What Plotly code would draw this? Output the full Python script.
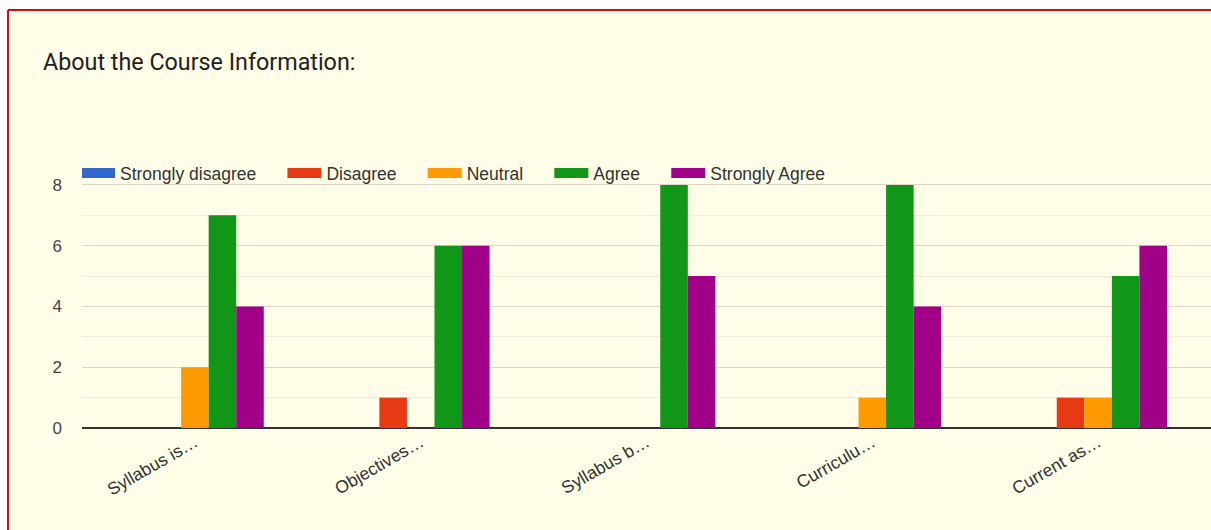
import plotly.graph_objects as go

# data
categories = ['Syllabus is…', 'Objectives…', 'Syllabus b…', 'Curriculu…', 'Current as…']
strongly_disagree = [0, 0, 0, 0, 0]
disagree = [0, 1, 0, 0, 1]
neutral = [2, 0, 0, 1, 1]
agree = [7, 6, 8, 8, 5]
strongly_agree = [4, 6, 5, 4, 6]

series = [
    ('Strongly disagree', strongly_disagree, '#3366cc'),
    ('Disagree', disagree, '#e63914'),
    ('Neutral', neutral, '#ff9900'),
    ('Agree', agree, '#129618'),
    ('Strongly Agree', strongly_agree, '#a10089'),
]

BG = '#fffde8'

W, H = 1211, 530
L, T, PH, PW = 82, 154, 274, 1129

fig = go.Figure()
for name, vals, col in series:
    fig.add_trace(go.Bar(
        x=categories, y=vals, name=name, showlegend=False,
        marker=dict(color=col, line=dict(width=0)),
    ))
# wide legend swatches like the original
for name, vals, col in series:
    fig.add_trace(go.Scatter(
        x=[None], y=[None], mode='lines', name=name + '\u00a0' * 5 + '\u2006',
        line=dict(color=col, width=17),
    ))

fig.update_layout(
    width=W, height=H,
    margin=dict(l=L, r=W - L - PW, t=T, b=H - T - PH),
    paper_bgcolor='white',
    plot_bgcolor=BG,
    barmode='group',
    bargap=0.39,
    bargroupgap=0.0,
    font=dict(family='Liberation Sans, Arial, sans-serif', color='#333333', size=15),
    title=dict(
        text='About the Course Information:',
        x=43 / W, xref='container', xanchor='left',
        y=1 - 62 / H, yref='container', yanchor='middle',
        font=dict(family='Roboto, sans-serif', size=23.3, color='#212121'),
    ),
    legend=dict(
        orientation='h', x=0, xanchor='left', y=0.996, yanchor='top',
        bgcolor='rgba(0,0,0,0)', font=dict(size=17.5, color='#333333'),
        traceorder='normal', itemwidth=34, indentation=-6,
    ),
    showlegend=True,
)

fig.update_xaxes(
    tickangle=-30, showgrid=False, showline=False, ticks='',
    tickfont=dict(size=17.5, color='#333333'),
)
fig.update_yaxes(
    range=[0, 9.02], dtick=2, tick0=0,
    showgrid=True, gridcolor='#e0d5c6', gridwidth=1,
    minor=dict(dtick=1, showgrid=True, gridcolor='#f7e8d8', gridwidth=1),
    zeroline=True, zerolinecolor='#333333', zerolinewidth=2,
    tickfont=dict(size=17, color='#444444'), ticks='', ticklabelstandoff=19,
)

# yellow card with a red border on top and left, running off the page
x_left = (8 - L) / PW
y_top = (T + PH - 10) / PH
fig.add_shape(type='rect', xref='paper', yref='paper',
              x0=x_left, x1=1.05, y0=-0.5, y1=y_top,
              fillcolor=BG, line=dict(width=0), layer='below')
fig.add_shape(type='line', xref='paper', yref='paper',
              x0=x_left, x1=1.05, y0=y_top, y1=y_top,
              line=dict(color='#c8101a', width=2), layer='below')
fig.add_shape(type='line', xref='paper', yref='paper',
              x0=x_left, x1=x_left, y0=-0.5, y1=y_top,
              line=dict(color='#c8101a', width=2), layer='below')

fig.write_html(
    'out.html',
    config={'displayModeBar': False},
    post_script="document.body.style.margin='0';document.body.style.overflow='hidden';",
)
